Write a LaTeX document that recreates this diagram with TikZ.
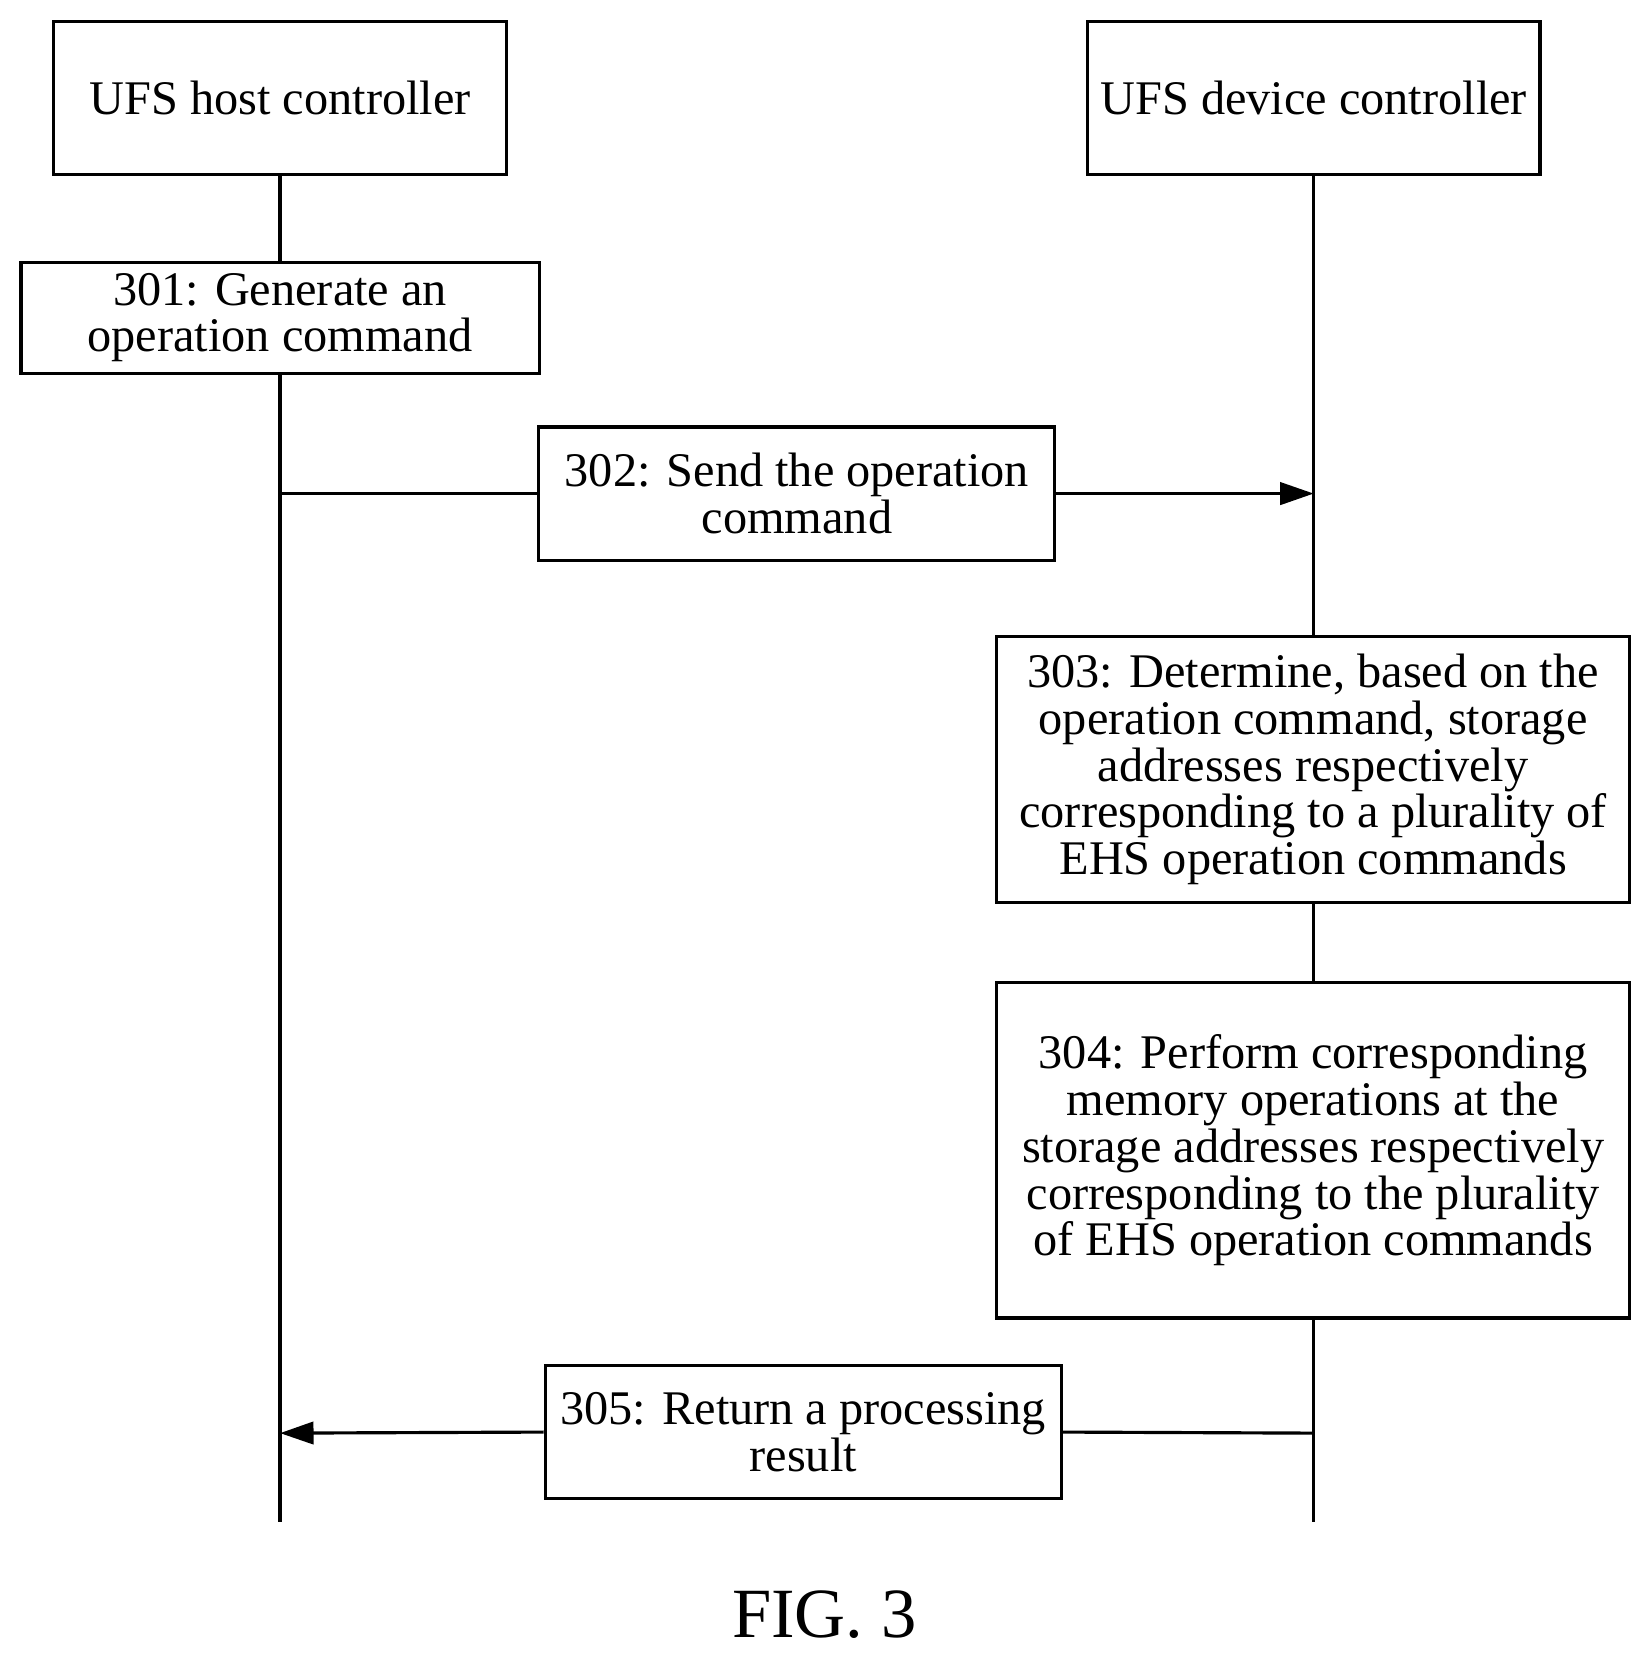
\documentclass[tikz,border=0pt]{standalone}
\usepackage{fontspec}
\setmainfont{Liberation Serif}
\usetikzlibrary{arrows.meta}
\tikzset{
  box/.style = {draw, line width=0.85pt, fill=white, align=center, inner sep=0pt},
  life/.style = {line width=0.85pt},
  msg/.style = {line width=0.85pt, -{Triangle[length=9pt,width=6pt]}}
}
\begin{document}
\begin{tikzpicture}[x=0.01cm, y=-0.01cm, font=\fontsize{13}{12.6}\selectfont]
		\useasboundingbox (0,0) rectangle (1560,1565);
		\coordinate (hend) at (265,1440);
		\coordinate (dend) at (1243,1440);
		\draw[life] (265,165) -- (hend);
		\draw[life] (1243,165) -- (dend);
		\node[box, minimum width=4.28cm, minimum height=1.45cm] (host) at (265,92.5){UFS host controller};
		\node[box, minimum width=4.28cm, minimum height=1.45cm] (dev) at (1243,92.5){UFS device controller};
		\node[box, minimum width=4.9cm, minimum height=1.05cm] (s301) at (265,300.5){301: Generate an\\operation command};
		\node[box, minimum width=4.88cm, minimum height=1.26cm] (s302) at (754,467){302: Send the operation\\command};
		\node[box, minimum width=5.99cm, minimum height=2.52cm] (s303) at (1242.5,728){303: Determine, based on the\\operation command, storage\\addresses respectively\\corresponding to a plurality of\\EHS operation commands};
		\node[box, minimum width=5.99cm, minimum height=3.17cm] (s304) at (1242.5,1088.5){304: Perform corresponding\\memory operations at the\\storage addresses respectively\\corresponding to the plurality\\of EHS operation commands};
		\node[box, minimum width=4.88cm, minimum height=1.26cm] (s305) at (760,1355){305: Return a processing\\result};
		\coordinate (h302) at (265,467);
		\coordinate (d302) at (1243,467);
		\coordinate (h305) at (265,1356);
		\coordinate (d305) at (1243,1356);
		\draw[life] (h302) -- (s302.west);
		\draw[msg] (s302.east) -- (d302);
		\draw[life] (d305) -- (s305.east);
		\draw[msg] (s305.west) -- (h305);
		\node[font=\fontsize{19}{22}\selectfont] (fig) at (780,1528){FIG. 3};
\end{tikzpicture}
\end{document}
